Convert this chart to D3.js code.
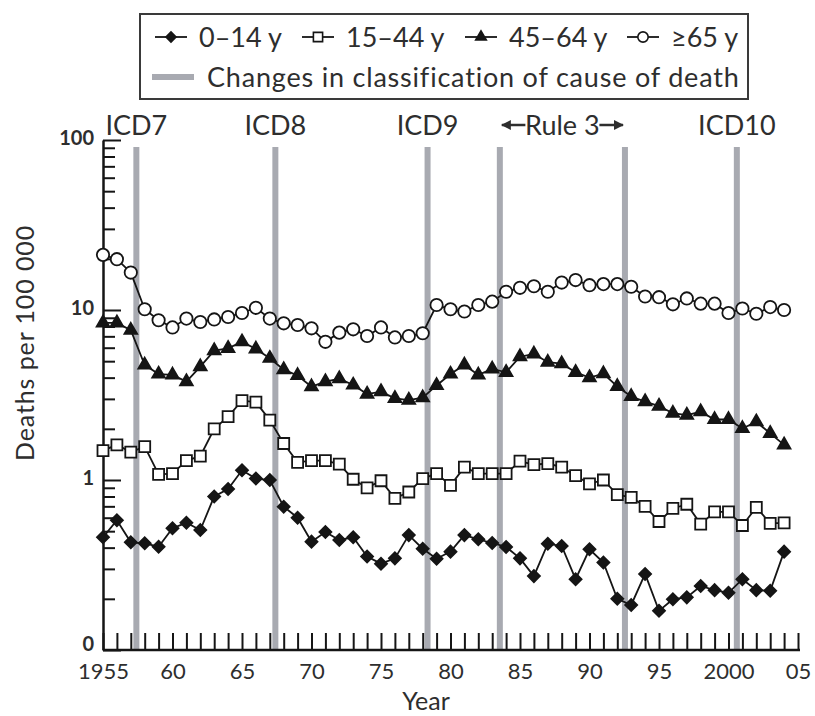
<!DOCTYPE html>
<html>
<head>
<meta charset="utf-8">
<script src="https://cdn.jsdelivr.net/npm/d3@7/dist/d3.min.js"></script>
<style>
  html, body { margin: 0; padding: 0; background: #fff; }
  svg { display: block; }
  text { font-family: Lato, "Noto Sans", sans-serif; fill: #2e2e2e; }
</style>
</head>
<body>
<svg id="chart" width="815" height="716"></svg>
<script>
// Death rates per 100 000 by age group, 1955–2004 (log scale)
const years = d3.range(1955, 2005);

const age0to14 = [0.46, 0.58, 0.43, 0.424, 0.405, 0.52, 0.56, 0.508, 0.80, 0.885,
  1.14, 1.02, 1.0, 0.697, 0.60, 0.434, 0.494, 0.444, 0.46, 0.355,
  0.322, 0.346, 0.474, 0.394, 0.344, 0.379, 0.474, 0.448, 0.426, 0.404,
  0.346, 0.272, 0.422, 0.409, 0.261, 0.391, 0.327, 0.200, 0.184, 0.280,
  0.170, 0.199, 0.204, 0.238, 0.225, 0.217, 0.261, 0.225, 0.223, 0.379];

const age15to44 = [1.49, 1.61, 1.46, 1.57, 1.08, 1.09, 1.30, 1.38, 2.00, 2.36,
  2.93, 2.87, 2.25, 1.64, 1.27, 1.30, 1.30, 1.24, 1.01, 0.90,
  0.99, 0.78, 0.85, 1.02, 1.09, 0.93, 1.19, 1.09, 1.09, 1.09,
  1.29, 1.23, 1.25, 1.19, 1.06, 0.95, 1.00, 0.82, 0.79, 0.70,
  0.57, 0.68, 0.72, 0.55, 0.65, 0.65, 0.54, 0.69, 0.556, 0.56];

const age45to64 = [8.4, 8.4, 7.6, 4.75, 4.2, 4.15, 3.79, 4.64, 5.77, 5.95,
  6.5, 5.9, 5.2, 4.46, 4.12, 3.54, 3.79, 3.94, 3.62, 3.2,
  3.31, 3.02, 2.95, 3.05, 3.6, 4.2, 4.75, 4.15, 4.5, 4.3,
  5.31, 5.51, 4.93, 4.83, 4.3, 4.0, 4.22, 3.55, 3.1, 2.89,
  2.72, 2.47, 2.41, 2.52, 2.27, 2.27, 2.01, 2.2, 1.88, 1.61];

const age65plus = [21.1, 19.9, 16.6, 10.1, 8.7, 7.9, 8.9, 8.5, 8.8, 9.1,
  9.6, 10.3, 8.9, 8.35, 8.16, 7.8, 6.5, 7.36, 7.7, 7.03,
  7.9, 6.9, 7.03, 7.3, 10.7, 10.1, 9.8, 10.7, 11.2, 12.8,
  13.5, 13.8, 12.8, 14.5, 15.0, 14.0, 14.2, 14.2, 13.7, 12.0,
  11.9, 10.8, 11.7, 10.9, 10.9, 9.6, 10.2, 9.5, 10.4, 10.0];

const seriesNames = ["0\u201314 y", "15\u201344 y", "45\u201364 y", "\u226565 y"];

// Points where the classification of cause of death changed
const changeYears = [1957.4, 1967.4, 1978.35, 1983.55, 1992.55, 2000.6];
const changeLabels = ["ICD7", "ICD8", "ICD9", "", "", "ICD10"];
const ruleLabel = "Rule 3";
const legendChangeLabel = "Changes in classification of cause of death";

const xLabelYears = [1955, 1960, 1965, 1970, 1975, 1980, 1985, 1990, 1995, 2000, 2005];
const xLabelText = ["1955", "60", "65", "70", "75", "80", "85", "90", "95", "2000", "05"];
const yMajorValues = [0.1, 1, 10, 100];
const yMajorText = ["0", "1", "10", "100"];

const svg = d3.select("#chart");
const ink = "#151515";
const grey = "#a8aab1";

const x = d3.scaleLinear().domain([1955, 2005]).range([103, 798]);
const y = d3.scaleLog().domain([0.1, 100]).range([650, 140]);

// classification-change bars
svg.append("g").selectAll("line").data(changeYears).join("line")
  .attr("x1", d => x(d)).attr("x2", d => x(d))
  .attr("y1", 147).attr("y2", 650)
  .attr("stroke", grey).attr("stroke-width", 6);

svg.append("g").selectAll("text").data(changeYears.map((d, i) => ({ year: d, label: changeLabels[i] })).filter(d => d.label))
  .join("text")
  .attr("x", d => x(d.year)).attr("y", 135)
  .attr("text-anchor", "middle")
  .attr("font-size", 27)
  .text(d => d.label);

// Rule 3 span with arrows
const r0 = x(changeYears[3]), r1 = x(changeYears[4]);
const rMid = (r0 + r1) / 2;
svg.append("text").attr("x", rMid).attr("y", 135).attr("text-anchor", "middle")
  .attr("font-size", 27).text(ruleLabel);
const defs = svg.append("defs");
defs.append("marker").attr("id", "arrowHead").attr("viewBox", "0 0 10 10")
  .attr("refX", 9).attr("refY", 5).attr("markerWidth", 4).attr("markerHeight", 4)
  .attr("orient", "auto-start-reverse")
  .append("path").attr("d", "M0,0L10,5L0,10Z").attr("fill", "#2e2e2e");
svg.append("line").attr("x1", rMid - 37).attr("x2", r0 + 2).attr("y1", 125).attr("y2", 125)
  .attr("stroke", "#2e2e2e").attr("stroke-width", 2.5).attr("marker-end", "url(#arrowHead)");
svg.append("line").attr("x1", rMid + 37).attr("x2", r1 - 2).attr("y1", 125).attr("y2", 125)
  .attr("stroke", "#2e2e2e").attr("stroke-width", 2.5).attr("marker-end", "url(#arrowHead)");

// axes
const xTicks = svg.append("g").attr("transform", "translate(0,650)")
  .call(d3.axisBottom(x).tickValues(d3.range(1955, 2006)).tickSizeInner(-17).tickSizeOuter(0).tickFormat(""));
xTicks.selectAll("line").attr("stroke", ink).attr("stroke-width", 2);
xTicks.select(".domain").attr("stroke", ink).attr("stroke-width", 2.5).attr("d", "M103,0H800");

const xLabels = svg.append("g").attr("transform", "translate(0,650)")
  .call(d3.axisBottom(x).tickValues(xLabelYears).tickSize(0).tickPadding(13)
    .tickFormat((d, i) => xLabelText[i]));
xLabels.select(".domain").remove();
xLabels.selectAll("text").attr("font-size", 22).attr("font-family", "Lato, sans-serif").attr("fill", "#2e2e2e");

const minorValues = [];
[0.1, 1, 10].forEach(dec => { for (let k = 2; k <= 9; k++) minorValues.push(dec * k); });
const yMinor = svg.append("g").attr("transform", "translate(103,0)")
  .call(d3.axisLeft(y).tickValues(minorValues).tickSizeInner(-12).tickSizeOuter(0).tickFormat(""));
yMinor.selectAll("line").attr("stroke", ink).attr("stroke-width", 2);
yMinor.select(".domain").remove();

const yMajor = svg.append("g").attr("transform", "translate(103,0)")
  .call(d3.axisLeft(y).tickValues(yMajorValues).tickSizeInner(-18).tickSizeOuter(0).tickPadding(9)
    .tickFormat((d, i) => yMajorText[i]));
yMajor.selectAll("line").attr("stroke", ink).attr("stroke-width", 2);
yMajor.select(".domain").attr("stroke", ink).attr("stroke-width", 2.5);
yMajor.selectAll("text").attr("font-size", 20).attr("font-family", "Lato, sans-serif")
  .attr("font-weight", 700).attr("fill", "#2e2e2e")
  .attr("dy", d => d === 0.1 ? "0.02em" : "0.2em");

// axis titles
svg.append("text").attr("transform", "translate(34,343) rotate(-90)")
  .attr("text-anchor", "middle").attr("font-size", 25).attr("letter-spacing", 0.9)
  .text("Deaths per 100 000");
svg.append("text").attr("x", 426).attr("y", 710).attr("text-anchor", "middle")
  .attr("font-size", 25).text("Year");

// series
const markerDefs = [
  { values: age0to14, type: d3.symbolSquare, size: 72, rotate: 45, fill: ink },
  { values: age15to44, type: d3.symbolSquare, size: 121, rotate: 0, fill: "#fff" },
  { values: age45to64, type: d3.symbolTriangle, size: 70, rotate: 0, fill: ink },
  { values: age65plus, type: d3.symbolCircle, size: 120, rotate: 0, fill: "#fff" }
];

const line = d3.line().x(d => x(d.year)).y(d => y(d.value));

markerDefs.forEach(s => {
  const pts = years.map((yr, i) => ({ year: yr, value: s.values[i] }));
  const g = svg.append("g");
  g.append("path").datum(pts).attr("d", line)
    .attr("fill", "none").attr("stroke", ink).attr("stroke-width", 1.8);
  g.selectAll("path.m").data(pts).join("path").attr("class", "m")
    .attr("d", d3.symbol().type(s.type).size(s.size))
    .attr("transform", d => `translate(${x(d.year)},${y(d.value)}) rotate(${s.rotate})`)
    .attr("fill", s.fill).attr("stroke", ink).attr("stroke-width", 1.8);
});

// legend
const legend = svg.append("g");
legend.append("rect").attr("x", 140).attr("y", 14).attr("width", 608).attr("height", 85)
  .attr("fill", "#fff").attr("stroke", "#3a3a3a").attr("stroke-width", 2);

const legendX = [155, 302, 465, 627];
markerDefs.forEach((s, i) => {
  const lx = legendX[i];
  legend.append("line").attr("x1", lx).attr("x2", lx + 32).attr("y1", 37).attr("y2", 37)
    .attr("stroke", ink).attr("stroke-width", 1.8);
  legend.append("path").attr("d", d3.symbol().type(s.type).size(s.size * 0.7))
    .attr("transform", `translate(${lx + 16},37) rotate(${s.rotate})`)
    .attr("fill", s.fill).attr("stroke", ink).attr("stroke-width", 1.6);
  legend.append("text").attr("x", lx + 44).attr("y", 47).attr("font-size", 27).text(seriesNames[i]);
});
legend.append("line").attr("x1", 152).attr("x2", 194).attr("y1", 77).attr("y2", 77)
  .attr("stroke", grey).attr("stroke-width", 6);
legend.append("text").attr("x", 207).attr("y", 87).attr("font-size", 27).attr("letter-spacing", 0.8)
  .text(legendChangeLabel);
</script>
</body>
</html>
